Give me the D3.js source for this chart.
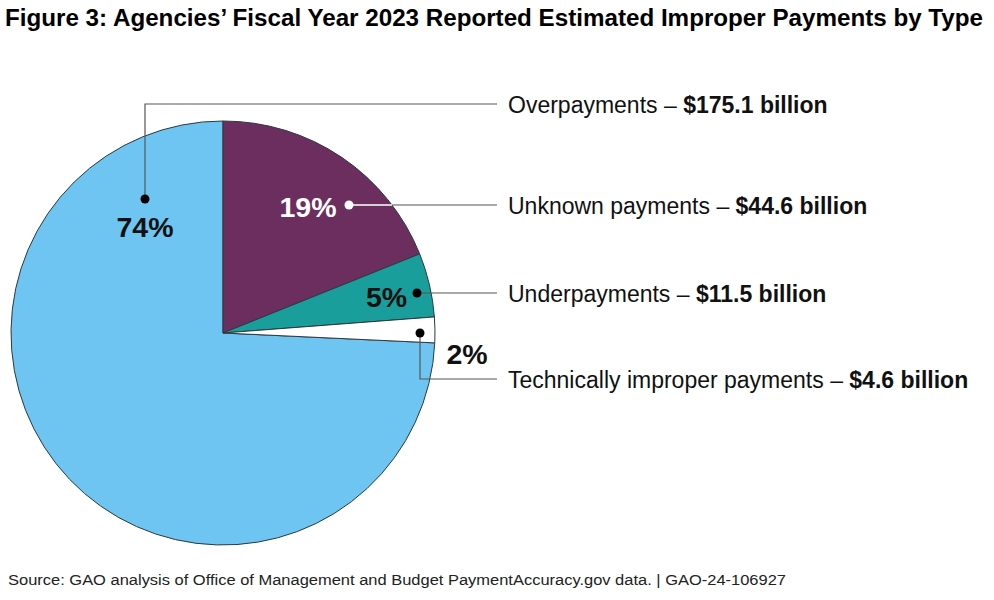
<!DOCTYPE html>
<html><head><meta charset="utf-8">
<script src="https://cdn.jsdelivr.net/npm/d3@7"></script>
<style>body{margin:0;background:#fff;} svg{display:block;}</style>
</head><body>
<svg id="chart" width="994" height="600"></svg>
<script>
// ---- data ----
const categories = ["Overpayments", "Unknown payments", "Underpayments", "Technically improper payments"];
const values = [175.1, 44.6, 11.5, 4.6];
const amountLabels = ["$175.1 billion", "$44.6 billion", "$11.5 billion", "$4.6 billion"];
const colors = ["#6fc5f1", "#6b2e5f", "#1a9e9b", "#ffffff"];
const titleText = "Figure 3: Agencies\u2019 Fiscal Year 2023 Reported Estimated Improper Payments by Type";
const sourceText = "Source: GAO analysis of Office of Management and Budget PaymentAccuracy.gov data.  |  GAO-24-106927";

// ---- layout ----
const svg = d3.select("#chart");
const cx = 223, cy = 333, R = 212;
const total = d3.sum(values);
const startA = -2 * Math.PI * values[0] / total;

svg.append("text").attr("x", 5).attr("y", 26)
  .attr("font-family", "'Liberation Sans Narrow', 'Arial Narrow', 'Liberation Sans', Arial, sans-serif")
  .attr("font-weight", "bold").attr("font-size", 23).attr("fill", "#000")
  .attr("textLength", 978).attr("lengthAdjust", "spacingAndGlyphs")
  .text(titleText);

const pie = d3.pie().sort(null).value(d => d).startAngle(startA).endAngle(startA + 2 * Math.PI);
const arcs = pie(values);
const arc = d3.arc().innerRadius(0).outerRadius(R);
const g = svg.append("g").attr("transform", `translate(${cx},${cy})`);
g.selectAll("path").data(arcs).join("path")
  .attr("d", arc).attr("fill", (d, i) => colors[i])
  .attr("stroke", "#2b3a40").attr("stroke-width", 1);

// label layout: dot (relative to center), label y, percent label position
const lay = [
  {dot: [-78, -134], path: "up", ly: 104, px: 145, py: 237, pc: "#111"},
  {dot: [126, -128], path: "h", ly: 205, px: 308, py: 217, pc: "#fff", lineIn: "#fff"},
  {dot: [194, -40], path: "h", ly: 293, px: 386.5, py: 307, pc: "#111"},
  {dot: [197, 0], path: "down", ly: 379, px: 467, py: 364, pc: "#111"}
];
const lineEnd = 497, textX = 508;
const pct = values.map(v => Math.round(v / total * 100) + "%");

lay.forEach((L, i) => {
  const dx = cx + L.dot[0], dy = cy + L.dot[1];
  let pts;
  if (L.path === "up" || L.path === "down") pts = [[dx, dy], [dx, L.ly], [lineEnd, L.ly]];
  else pts = [[dx, dy], [lineEnd, L.ly]];
  svg.append("path").attr("d", d3.line()(pts)).attr("fill", "none")
    .attr("stroke", "#555").attr("stroke-width", 1.2);
  if (L.lineIn) {
    const xEdge = cx + Math.sqrt(R * R - (L.ly - cy) * (L.ly - cy));
    svg.append("line").attr("x1", dx).attr("y1", dy).attr("x2", xEdge).attr("y2", L.ly)
      .attr("stroke", L.lineIn).attr("stroke-width", 1.4);
  }
  svg.append("circle").attr("cx", dx).attr("cy", dy).attr("r", 4.5)
    .attr("fill", i === 1 ? "#fff" : "#000");
  svg.append("text").attr("x", L.px).attr("y", L.py).attr("text-anchor", "middle")
    .attr("font-family", "'Liberation Sans', Arial, sans-serif").attr("font-weight", "bold")
    .attr("font-size", 28.5).attr("fill", L.pc).text(pct[i]);
  const t = svg.append("text").attr("x", textX).attr("y", L.ly + 8.5)
    .attr("font-family", "'Liberation Sans', Arial, sans-serif").attr("font-size", 23).attr("fill", "#111");
  t.append("tspan").text(categories[i] + " \u2013 ");
  t.append("tspan").attr("font-weight", "bold").text(amountLabels[i]);
});

svg.append("text").attr("x", 8).attr("y", 585)
  .attr("font-family", "'Liberation Sans Narrow', 'Arial Narrow', 'Liberation Sans', Arial, sans-serif")
  .attr("font-size", 15.5).attr("fill", "#222")
  .attr("textLength", 778).attr("lengthAdjust", "spacingAndGlyphs")
  .text(sourceText);
</script>
</body></html>
